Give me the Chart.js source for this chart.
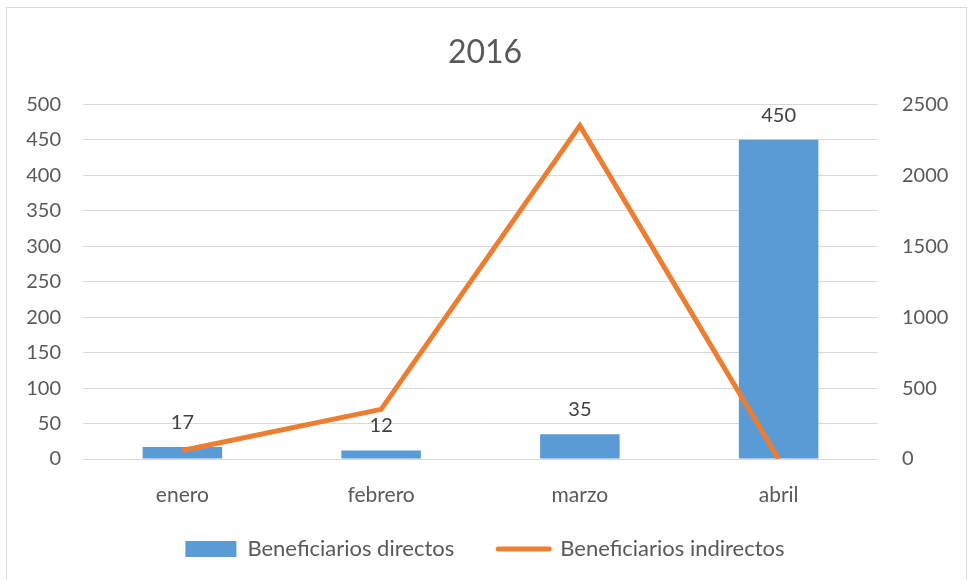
<!DOCTYPE html>
<html>
<head>
<meta charset="utf-8">
<script src="https://cdn.jsdelivr.net/npm/chart.js@4/dist/chart.umd.min.js"></script>
<style>
  html, body { margin: 0; padding: 0; background: #ffffff; }
  #wrap { position: relative; width: 970px; height: 580px; overflow: hidden; }
  #frame { position: absolute; left: 6px; top: 7px; width: 961px; height: 600px; border: 1px solid #d9d9d9; box-sizing: border-box; pointer-events: none; }
  canvas { position: absolute; left: 0; top: 0; }
</style>
</head>
<body>
<div id="wrap">
  <canvas id="c" width="970" height="580"></canvas>
  <div id="frame"></div>
</div>
<script>
const chartTitle = '2016';
const months = ['enero', 'febrero', 'marzo', 'abril'];
const directos = [17, 12, 35, 450];
const indirectos = [60, 350, 2350, 0];
const leftTicks = { min: 0, max: 500, step: 50 };
const rightTicks = { min: 0, max: 2500, step: 500 };
const seriesNames = ['Beneficiarios directos', 'Beneficiarios indirectos'];

const FONT = 'Lato, "Open Sans", sans-serif';
const TXT = '#595959';

const barLabels = {
  id: 'barLabels',
  afterDatasetsDraw(chart) {
    const ctx = chart.ctx;
    const meta = chart.getDatasetMeta(0);
    ctx.save();
    ctx.font = '20px ' + FONT;
    ctx.fillStyle = '#404040';
    ctx.textAlign = 'center';
    ctx.textBaseline = 'alphabetic';
    meta.data.forEach((el, i) => {
      ctx.fillText(String(directos[i]), el.x, el.y - 18);
    });
    ctx.restore();
  }
};

// let the category labels extend below the (short) x-axis box without being clipped
const extendXLabelArea = {
  id: 'extendXLabelArea',
  afterLayout(chart) {
    const xs = chart.scales.x;
    xs.bottom = xs.top + 60;
  }
};

new Chart(document.getElementById('c'), {
  type: 'bar',
  data: {
    labels: months,
    datasets: [
      {
        type: 'bar',
        label: seriesNames[0],
        data: directos,
        backgroundColor: '#5B9BD5',
        borderWidth: 0,
        categoryPercentage: 0.8,
        barPercentage: 0.5,
        yAxisID: 'y',
        order: 2
      },
      {
        type: 'line',
        label: seriesNames[1],
        data: indirectos,
        borderColor: '#ED7D31',
        backgroundColor: '#ED7D31',
        borderWidth: 5,
        pointRadius: 0,
        tension: 0,
        fill: false,
        yAxisID: 'y1',
        order: 1,
        pointStyle: 'line'
      }
    ]
  },
  options: {
    responsive: false,
    animation: false,
    events: [],
    layout: { padding: { left: 0, right: 0, top: 10, bottom: 10 } },
    plugins: {
      title: {
        display: true,
        text: chartTitle,
        color: TXT,
        font: { family: FONT, size: 32, weight: 'normal' },
        padding: { top: 23, bottom: 33 }
      },
      legend: {
        position: 'bottom',
        sort: (a, b) => a.datasetIndex - b.datasetIndex,
        labels: {
          font: { family: FONT, size: 22 },
          color: TXT,
          padding: 44,
          usePointStyle: true,
          pointStyleWidth: 51,
          boxHeight: 16,
          generateLabels(chart) {
            return chart.data.datasets.map((ds, i) => ({
              text: ds.label,
              datasetIndex: i,
              fillStyle: ds.type === 'line' ? ds.borderColor : ds.backgroundColor,
              strokeStyle: ds.type === 'line' ? ds.borderColor : ds.backgroundColor,
              lineWidth: ds.type === 'line' ? 5 : 0,
              lineCap: 'round',
              pointStyle: ds.type === 'line' ? 'line' : 'rect',
              fontColor: TXT,
              hidden: false
            }));
          }
        }
      },
      tooltip: { enabled: false }
    },
    scales: {
      x: {
        grid: { display: false, drawTicks: false },
        border: { display: false },
        ticks: { color: TXT, font: { family: FONT, size: 21 }, padding: 24 },
        afterFit(scale) { scale.height = 35; }
      },
      y: {
        position: 'left',
        min: leftTicks.min,
        max: leftTicks.max,
        ticks: { stepSize: leftTicks.step, color: TXT, font: { family: FONT, size: 20 }, padding: 22 },
        grid: { color: '#d9d9d9', lineWidth: 1, drawTicks: false },
        border: { display: false },
        afterFit(scale) { scale.width = 83; }
      },
      y1: {
        position: 'right',
        min: rightTicks.min,
        max: rightTicks.max,
        ticks: {
          stepSize: rightTicks.step, color: TXT, font: { family: FONT, size: 20 }, padding: 24,
          callback: (v) => String(v)
        },
        grid: { display: false, drawTicks: false },
        border: { display: false },
        afterFit(scale) { scale.width = 92; }
      }
    }
  },
  plugins: [barLabels, extendXLabelArea]
});
</script>
</body>
</html>
